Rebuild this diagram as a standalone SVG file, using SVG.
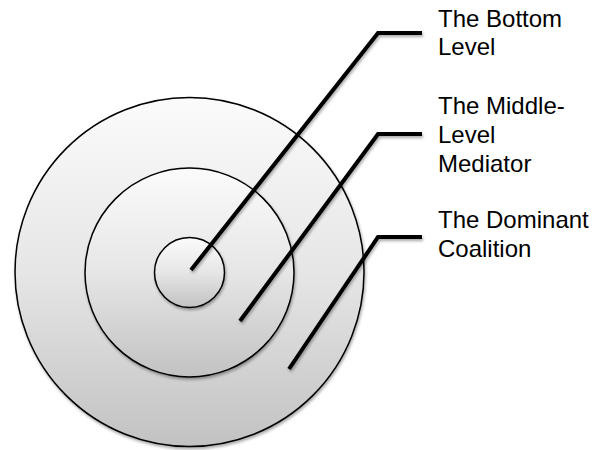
<svg xmlns="http://www.w3.org/2000/svg" width="593" height="450" viewBox="0 0 593 450">
<defs>
<linearGradient id="g" x1="0" y1="0" x2="0" y2="1">
<stop offset="0" stop-color="#fbfbfb"/>
<stop offset="0.5" stop-color="#e6e6e6"/>
<stop offset="1" stop-color="#c2c2c2"/>
</linearGradient>
<filter id="sh" x="-10%" y="-10%" width="125%" height="125%">
<feGaussianBlur in="SourceAlpha" stdDeviation="1.5"/>
<feOffset dx="1" dy="2" result="b"/>
<feComponentTransfer><feFuncA type="linear" slope="0.35"/></feComponentTransfer>
<feMerge><feMergeNode/><feMergeNode in="SourceGraphic"/></feMerge>
</filter>
</defs>
<style>
.c{fill:url(#g);stroke:#000;stroke-width:1.5;filter:url(#sh)}
.l{fill:none;stroke:#000;stroke-width:4;filter:url(#sh)}
.t{font-family:"Liberation Sans",Arial,sans-serif;font-size:24px;fill:#000}
</style>
<rect width="593" height="450" fill="#fff"/>
<g id="outer"><circle class="c" cx="189.5" cy="272" r="174.5"/></g>
<g id="middle"><circle class="c" cx="189.5" cy="272.5" r="104.5"/></g>
<g id="inner"><circle class="c" cx="189.5" cy="272.5" r="35"/></g>
<g id="connectors">
<polyline class="l" points="191,270 378,33 422,33"/>
<polyline class="l" points="240,321 378,134 422,134"/>
<polyline class="l" points="289,369 378,237 422,237"/>
</g>
<g id="label-bottom"><text class="t" x="438" y="27">The Bottom</text><text class="t" x="438" y="55">Level</text></g>
<g id="label-middle"><text class="t" x="438" y="113.5">The Middle-</text><text class="t" x="438" y="143">Level</text><text class="t" x="438" y="172">Mediator</text></g>
<g id="label-dominant"><text class="t" x="438" y="228">The Dominant</text><text class="t" x="438" y="257">Coalition</text></g>
</svg>
